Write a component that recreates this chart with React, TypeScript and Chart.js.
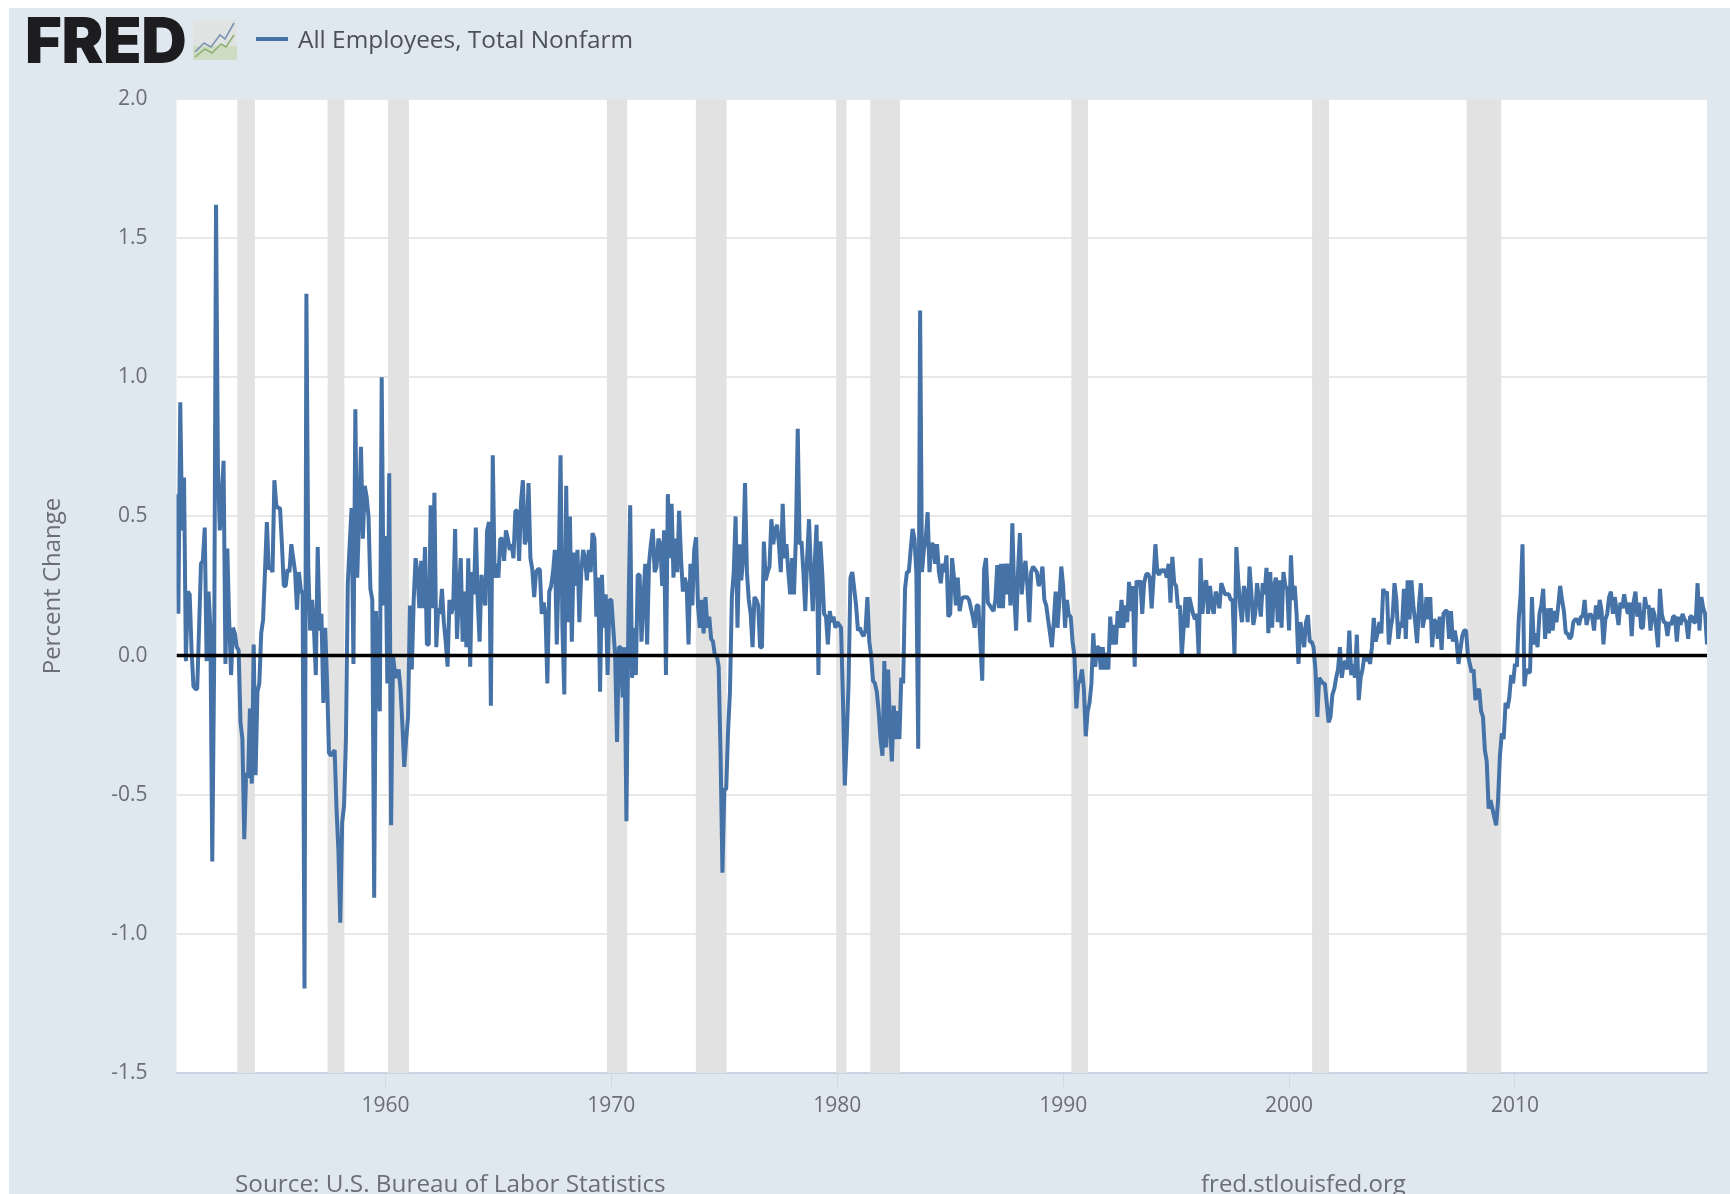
import React, { useEffect, useRef } from "react";
import { Chart, registerables } from "chart.js";

Chart.register(...registerables);

const seriesName = "All Employees, Total Nonfarm";
const yAxisTitle = "Percent Change";
const sourceText = "Source: U.S. Bureau of Labor Statistics";
const siteText = "fred.stlouisfed.org";
const yTickValues = [-1.5, -1, -0.5, 0, 0.5, 1, 1.5, 2];
const xTickYears = [1960, 1970, 1980, 1990, 2000, 2010];
const firstMonth = 1950.75;
const lastMonth = 2018.5;

// Monthly percent change, Oct 1950 onward
const values1950s = [
  0.58, 0.15, 0.91,
  0.45, 0.64, -0.02, 0.23, 0.22, 0.02, -0.11, -0.12, -0.12, 0.1, 0.33, 0.34,
  0.46, -0.02, 0.23, 0.1, -0.74, -0.03, 1.62, 0.68, 0.45, 0.55, 0.7, -0.03,
  0.385, 0.12, -0.07, 0.1, 0.08, 0.03, 0.02, -0.24, -0.3, -0.66, -0.42, -0.44,
  -0.19, -0.46, 0.04, -0.43, -0.13, -0.1, 0.08, 0.13, 0.3, 0.48, 0.31, 0.32,
  0.3, 0.63, 0.54, 0.53, 0.53, 0.4, 0.25, 0.25, 0.31, 0.3, 0.4, 0.35,
  0.3, 0.165, 0.3, 0.24, 0.22, -1.196, 1.3, 0.32, 0.09, 0.2, 0.1, -0.07,
  0.39, 0.09, 0.15, -0.17, 0.1, -0.1, -0.35, -0.36, -0.35, -0.34, -0.55, -0.7,
  -0.96, -0.6, -0.54, -0.3, 0.26, 0.4, 0.53, -0.03, 0.885, 0.28, 0.5, 0.75,
  0.42, 0.61, 0.57, 0.5, 0.24, 0.2, -0.87, 0.16, -0.12, -0.2, 1.0, 0.18,
];
const values1960s = [
  0.43, -0.1, 0.655, -0.61, 0.0, -0.06, -0.08, -0.05, -0.12, -0.25, -0.4, -0.3,
  -0.22, 0.18, -0.05, 0.2, 0.35, 0.3, 0.17, 0.34, 0.17, 0.39, 0.04, 0.04,
  0.54, 0.17, 0.585, 0.03, 0.17, 0.15, 0.24, 0.12, 0.05, -0.04, 0.2, 0.15,
  0.18, 0.455, 0.06, 0.22, 0.35, 0.05, 0.23, 0.03, 0.35, -0.04, 0.3, 0.22,
  0.46, 0.2, 0.05, 0.29, 0.23, 0.18, 0.45, 0.48, -0.18, 0.72, 0.28, 0.33,
  0.28, 0.42, 0.42, 0.34, 0.45, 0.42, 0.38, 0.4, 0.35, 0.52, 0.52, 0.34,
  0.55, 0.63, 0.4, 0.42, 0.62, 0.35, 0.31, 0.21, 0.3, 0.31, 0.31, 0.15,
  0.19, 0.15, -0.1, 0.23, 0.25, 0.3, 0.38, 0.04, 0.3, 0.72, 0.1, -0.14,
  0.61, 0.12, 0.5, 0.05, 0.37, 0.25, 0.38, 0.12, 0.3, 0.38, 0.35, 0.27,
  0.38, 0.3, 0.44, 0.42, 0.14, 0.28, -0.13, 0.29, 0.1, 0.22, -0.07, 0.2,
];
const values1970s = [
  0.2, 0.1, 0.0, -0.31, 0.03, 0.03, -0.15, 0.03, -0.595, 0.1, 0.54, -0.08,
  0.1, -0.07, 0.29, 0.29, 0.05, 0.2, 0.33, 0.04, 0.33, 0.4, 0.455, 0.3,
  0.32, 0.42, 0.4, 0.25, 0.45, -0.07, 0.58, 0.35, 0.545, 0.28, 0.42, 0.3,
  0.52, 0.35, 0.23, 0.28, 0.25, 0.04, 0.33, 0.18, 0.38, 0.425, 0.18, 0.1,
  0.2, 0.08, 0.21, 0.1, 0.14, 0.06, 0.05, 0.0, 0.0, -0.04, -0.35, -0.78,
  -0.48, -0.48, -0.27, -0.13, 0.21, 0.3, 0.5, 0.1, 0.4, 0.27, 0.35, 0.62,
  0.3, 0.2, 0.15, 0.03, 0.21, 0.2, 0.18, 0.03, 0.03, 0.41, 0.27, 0.3,
  0.32, 0.49, 0.4, 0.45, 0.47, 0.4, 0.3, 0.545, 0.35, 0.4, 0.3, 0.22,
  0.35, 0.22, 0.42, 0.815, 0.4, 0.41, 0.3, 0.16, 0.35, 0.49, 0.3, 0.16,
  0.33, 0.47, -0.07, 0.41, 0.3, 0.15, 0.14, 0.04, 0.16, 0.12, 0.14, 0.1,
];
const values1980s = [
  0.12, 0.11, 0.1, -0.15, -0.467, -0.3, -0.1, 0.28, 0.3, 0.24, 0.18, 0.09,
  0.1, 0.08, 0.07, 0.09, 0.21, 0.05, 0.0, -0.09, -0.1, -0.13, -0.2, -0.3,
  -0.36, -0.02, -0.33, -0.05, -0.25, -0.38, -0.18, -0.3, -0.2, -0.3, -0.08, -0.1,
  0.24, 0.3, 0.3, 0.38, 0.455, 0.42, 0.3, -0.335, 1.24, 0.3, 0.38, 0.42,
  0.515, 0.3, 0.4, 0.4, 0.33, 0.4, 0.3, 0.26, 0.33, 0.3, 0.36, 0.14,
  0.15, 0.35, 0.28, 0.18, 0.28, 0.16, 0.2, 0.21, 0.21, 0.21, 0.2, 0.17,
  0.14, 0.1, 0.18, 0.18, 0.05, -0.09, 0.31, 0.35, 0.19, 0.18, 0.17, 0.16,
  0.2, 0.325, 0.17, 0.33, 0.17, 0.33, 0.22, 0.33, 0.18, 0.475, 0.22, 0.09,
  0.3, 0.44, 0.22, 0.3, 0.34, 0.25, 0.12, 0.3, 0.32, 0.31, 0.3, 0.25,
  0.27, 0.32, 0.2, 0.18, 0.13, 0.08, 0.03, 0.12, 0.23, 0.1, 0.2, 0.32,
];
const values1990s = [
  0.25, 0.1, 0.2, 0.145, 0.14, 0.05, 0.0, -0.19, -0.1, -0.09, -0.05, -0.12,
  -0.29, -0.2, -0.17, -0.1, 0.08, -0.04, 0.03, 0.03, -0.05, 0.03, -0.05, 0.01,
  -0.05, 0.14, 0.04, 0.11, 0.04, 0.16, 0.1, 0.2, 0.1, 0.18, 0.12, 0.265,
  0.16, 0.25, -0.04, 0.27, 0.25, 0.27, 0.15, 0.26, 0.29, 0.295, 0.28, 0.17,
  0.28, 0.4, 0.3, 0.29, 0.31, 0.3, 0.31, 0.28, 0.33, 0.19, 0.355, 0.26,
  0.25, 0.17, 0.18, 0.0, 0.1, 0.21, 0.1, 0.21, 0.18, 0.15, 0.13, 0.15,
  0.0, 0.35, 0.15, 0.25, 0.27, 0.15, 0.25, 0.18, 0.15, 0.23, 0.21, 0.17,
  0.26, 0.24, 0.22, 0.22, 0.22, 0.2, 0.2, 0.0, 0.39, 0.27, 0.18, 0.12,
  0.25, 0.22, 0.12, 0.32, 0.22, 0.11, 0.15, 0.26, 0.2, 0.14, 0.26, 0.22,
  0.315, 0.08, 0.3, 0.1, 0.25, 0.28, 0.12, 0.27, 0.1, 0.3, 0.25, 0.24,
];
const values2000s = [
  0.09, 0.36, 0.2, 0.25, 0.15, -0.03, 0.12, 0.08, 0.03, 0.12, 0.145, 0.05,
  0.05, 0.03, -0.05, -0.22, -0.08, -0.09, -0.1, -0.1, -0.17, -0.24, -0.22, -0.14,
  -0.12, -0.08, -0.05, 0.03, -0.08, -0.03, -0.02, -0.05, 0.09, -0.07, -0.03, -0.08,
  0.075, -0.16, -0.08, -0.05, 0.0, -0.02, 0.0, -0.03, 0.03, 0.135, 0.05, 0.08,
  0.12, 0.08, 0.24, 0.22, 0.23, 0.04, 0.1, 0.14, 0.26, 0.2, 0.06, 0.12,
  0.1, 0.24, 0.06, 0.27, 0.13, 0.27, 0.18, 0.12, 0.045, 0.18, 0.26, 0.1,
  0.14, 0.21, 0.13, 0.21, 0.03, 0.13, 0.12, 0.06, 0.14, 0.02, 0.15, 0.16,
  0.16, 0.06, 0.16, 0.05, 0.09, 0.05, -0.03, 0.02, 0.07, 0.09, 0.09, 0.0,
  -0.03, -0.06, -0.05, -0.16, -0.13, -0.12, -0.2, -0.22, -0.34, -0.38, -0.55, -0.52,
  -0.55, -0.58, -0.61, -0.52, -0.36, -0.28, -0.3, -0.17, -0.19, -0.15, -0.07, -0.1,
];
const values2010s = [
  -0.03, -0.04, 0.13, 0.22, 0.4, -0.11, -0.05, -0.06, -0.06, 0.21, 0.04, 0.08,
  0.03, 0.15, 0.18, 0.24, 0.06, 0.17, 0.08, 0.17, 0.09, 0.16, 0.12, 0.18,
  0.25, 0.2, 0.16, 0.08, 0.08, 0.06, 0.07, 0.12, 0.13, 0.13, 0.11, 0.14,
  0.14, 0.2, 0.11, 0.14, 0.15, 0.14, 0.09, 0.18, 0.13, 0.2, 0.16, 0.04,
  0.13, 0.15, 0.21, 0.23, 0.15, 0.21, 0.16, 0.11, 0.19, 0.17, 0.22, 0.18,
  0.15, 0.19, 0.07, 0.19, 0.23, 0.14, 0.19, 0.1, 0.1, 0.21, 0.17, 0.18,
  0.09, 0.17, 0.15, 0.1, 0.03, 0.24, 0.15, 0.12, 0.12, 0.07, 0.12, 0.11,
  0.14, 0.14, 0.05, 0.14, 0.11, 0.15, 0.13, 0.12, 0.06, 0.14, 0.14, 0.12,
  0.12, 0.26, 0.09, 0.21, 0.17, 0.15, 0.04,
];
const allValues = [
  ...values1950s, ...values1960s, ...values1970s, ...values1980s,
  ...values1990s, ...values2000s, ...values2010s,
];

const recessionStarts = [1953.44, 1957.44, 1960.11, 1969.8, 1973.74, 1979.95, 1981.46, 1990.36, 2001.02, 2007.86];
const recessionEnds = [1954.22, 1958.18, 1961.04, 1970.7, 1975.1, 1980.41, 1982.78, 1991.1, 2001.77, 2009.39];

const PANEL = "#dfe7ef";
const TEXT = "#6b6f75";
const FONT = '"Open Sans", sans-serif';

const plotBackground = {
  id: "plotBackground",
  beforeDraw(chart: any) {
    const { ctx, chartArea: a } = chart;
    ctx.save();
    ctx.fillStyle = "#ffffff";
    ctx.fillRect(a.left, a.top, a.right - a.left, a.bottom - a.top);
    ctx.restore();
  },
};

const recessionBands = {
  id: "recessionBands",
  beforeDatasetsDraw(chart: any) {
    const { ctx, chartArea: a, scales } = chart;
    ctx.save();
    ctx.fillStyle = "#e2e2e2";
    recessionStarts.forEach((s, i) => {
      const l = scales.x.getPixelForValue(s);
      const r = scales.x.getPixelForValue(recessionEnds[i]);
      ctx.fillRect(l, a.top, r - l, a.bottom - a.top);
    });
    ctx.restore();
  },
};

export default function App() {
  const ref = useRef<HTMLCanvasElement>(null);
  useEffect(() => {
    const chart = new Chart(ref.current as any, {
      type: "line",
      data: {
        datasets: [
          {
            label: "zero",
            data: [{ x: firstMonth, y: 0 }, { x: lastMonth, y: 0 }],
            borderColor: "#000000",
            borderWidth: 3.5,
            pointRadius: 0,
          },
          {
            label: seriesName,
            data: allValues.map((y, i) => ({ x: firstMonth + i / 12, y })),
            borderColor: "#4572a7",
            borderWidth: 4,
            pointRadius: 0,
            tension: 0,
            borderJoinStyle: "bevel",
          },
        ],
      },
      plugins: [plotBackground, recessionBands],
      options: {
        responsive: false,
        animation: false,
        layout: { padding: { left: 30, right: 23, top: 91, bottom: 60 } },
        plugins: { legend: { display: false }, tooltip: { enabled: false }, title: { display: false } },
        scales: {
          x: {
            type: "linear",
            min: firstMonth,
            max: lastMonth,
            afterBuildTicks: (s: any) => { s.ticks = xTickYears.map((value) => ({ value })); },
            afterFit: (s: any) => { s.height = 61; },
            grid: { drawOnChartArea: false, drawTicks: true, tickLength: 16, tickColor: "#cfdae6", tickWidth: 1 },
            border: { color: "#c8d4e3", width: 2 },
            ticks: {
              autoSkip: false,
              maxRotation: 0,
              padding: 4,
              color: TEXT,
              font: { family: FONT, size: 21 },
              callback: (v: any) => String(v),
            },
          },
          y: {
            min: -1.5,
            max: 2,
            afterBuildTicks: (s: any) => { s.ticks = yTickValues.map((value) => ({ value })); },
            afterFit: (s: any) => { s.width = 137.5; },
            grid: { color: "#e8e8e8", lineWidth: 2, drawTicks: false },
            border: { display: false },
            title: {
              display: true,
              text: yAxisTitle,
              color: TEXT,
              font: { family: FONT, size: 24 },
              padding: 0,
            },
            ticks: {
              padding: 29,
              color: TEXT,
              font: { family: FONT, size: 21 },
              callback: (v: any) => Number(v).toFixed(1),
            },
          },
        },
      },
    } as any);
    return () => chart.destroy();
  }, []);

  return (
    <div style={{ position: "absolute", left: 9, top: 8, width: 1721, height: 1186, overflow: "hidden", background: PANEL }}>
      <canvas ref={ref} width={1721} height={1186} style={{ display: "block" }} />
      <div style={{ position: "absolute", left: 16, top: 0, fontFamily: "Inter, sans-serif", fontWeight: 900, fontSize: 63, lineHeight: "64px", letterSpacing: -0.4, color: "#1d1d1f" }}>FRED</div>
      <svg style={{ position: "absolute", left: 184, top: 12 }} width={44} height={40} viewBox="0 0 44 40">
        <rect x={0} y={0} width={44} height={40} fill="#dfe4e2" />
        <rect x={0} y={26} width={44} height={14} fill="#cfdcc4" />
        <polyline points="2,32 11,23 18,27 27,15 32,19 41,3" fill="none" stroke="#7d93b2" strokeWidth={1.6} />
        <polyline points="2,37 12,29 19,33 28,24 33,27 41,15" fill="none" stroke="#8fae72" strokeWidth={1.6} />
      </svg>
      <div style={{ position: "absolute", left: 247, top: 29, width: 32, height: 4, background: "#4572a7" }} />
      <div style={{ position: "absolute", left: 289, top: 14, fontFamily: FONT, fontSize: 24.4, lineHeight: "34px", color: "#4d5157", whiteSpace: "nowrap" }}>{seriesName}</div>
      <div style={{ position: "absolute", left: 226, top: 1160, fontFamily: FONT, fontSize: 24.3, lineHeight: "30px", color: TEXT, whiteSpace: "nowrap" }}>{sourceText}</div>
      <div style={{ position: "absolute", left: 1192, top: 1160, fontFamily: FONT, fontSize: 24, lineHeight: "30px", color: TEXT, whiteSpace: "nowrap" }}>{siteText}</div>
    </div>
  );
}
